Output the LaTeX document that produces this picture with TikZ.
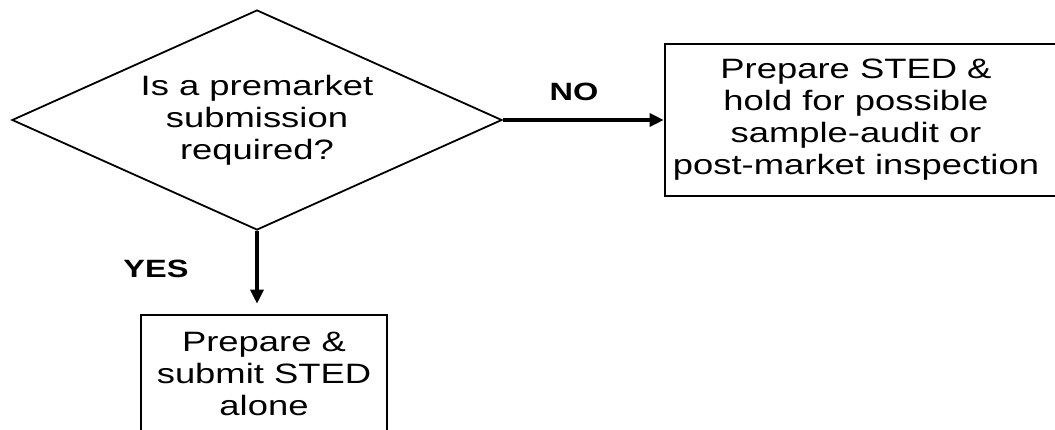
\documentclass[tikz,border=0pt]{standalone}
\usepackage{fontspec}
\setmainfont{Liberation Sans}[FakeStretch=1.3]
\usetikzlibrary{shapes.geometric,arrows.meta}
\begin{document}
\begin{tikzpicture}[x=1pt,y=-1pt,
 txt/.style={font=\fontsize{28}{32}\selectfont, align=center},
 lbl/.style={font=\fontsize{25}{30}\selectfont\bfseries},
 box/.style={draw, line width=2.6pt, inner sep=0pt, txt},
 dec/.style={draw, diamond, line width=1.8pt, inner sep=0pt, minimum width=490pt, minimum height=220pt, shape aspect=2.227, txt},
 arr/.style={line width=3.2pt, -{Triangle[length=14pt,width=13pt]}}]
\useasboundingbox (0,0) rectangle (1055,429);
\clip (0,0) rectangle (1055,429);
\node[dec] (q) at (257,120) {Is a premarket\\submission\\required?};
\node[box, minimum width=420pt, minimum height=152pt] (n) at (875,120) {};
\node[txt] (nt) at (856,120) {Prepare STED \&\\hold for possible\\sample-audit or\\post-market inspection};
\node[box, minimum width=246pt, minimum height=118pt] (y) at (264,374) {Prepare \&\\submit STED\\alone};
\node[lbl] (nol) at (574,92) {NO};
\node[lbl] (yesl) at (156,269) {YES};
\draw[arr] (q.east) -- (n.west);
\draw[arr, shorten >=10pt] (q.south) -- (q.south |- y.north);
\end{tikzpicture}
\end{document}
